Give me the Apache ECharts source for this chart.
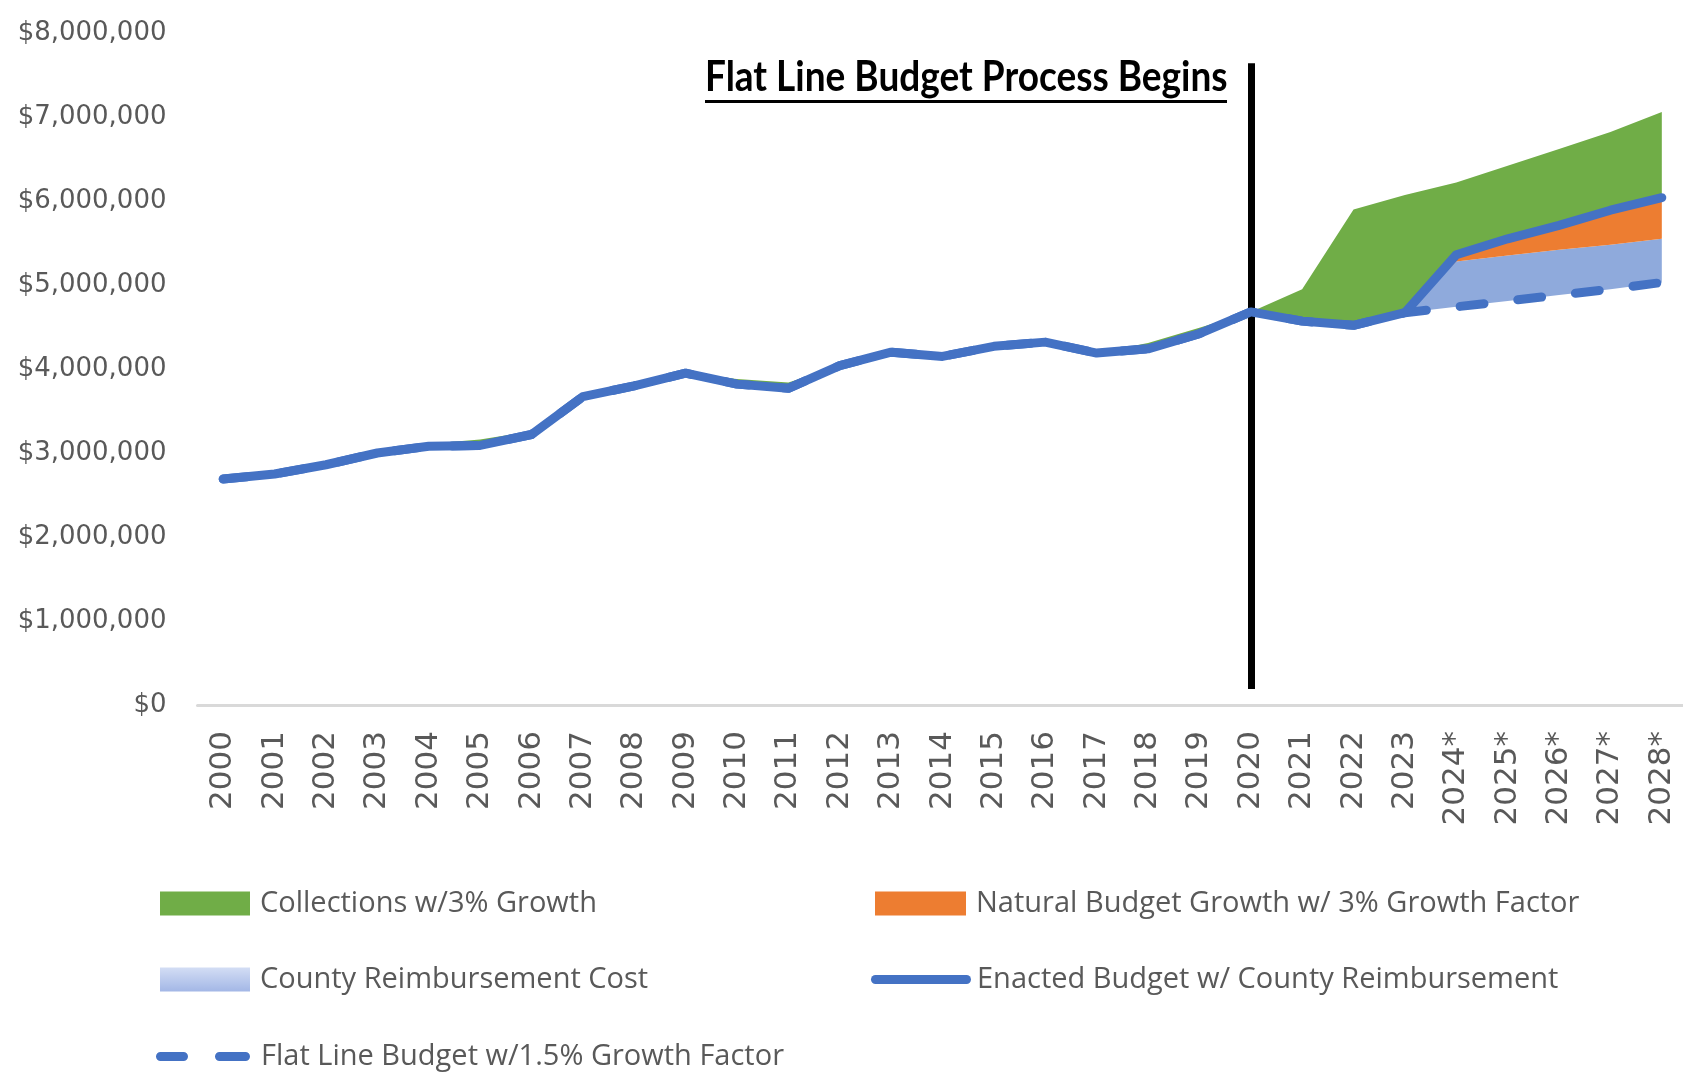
<!DOCTYPE html>
<html>
<head>
<meta charset="utf-8">
<title>Enacted Budget vs Collections</title>
<script src="https://cdn.jsdelivr.net/npm/echarts@6/dist/echarts.min.js"></script>
<style>
  html, body { margin: 0; padding: 0; background: #ffffff; }
  #chart { width: 1683px; height: 1073px; }
</style>
</head>
<body>
<div id="chart"></div>
<script>
// Fiscal years (* = projected)
const years = ['2000','2001','2002','2003','2004','2005','2006','2007','2008','2009',
  '2010','2011','2012','2013','2014','2015','2016','2017','2018','2019',
  '2020','2021','2022','2023','2024*','2025*','2026*','2027*','2028*'];

// Collections w/3% Growth
const collections = [2690000, 2750000, 2860000, 3000000, 3110000, 3160000, 3260000, 3670000, 3800000, 3950000,
  3880000, 3840000, 4040000, 4200000, 4150000, 4270000, 4320000, 4190000, 4310000, 4490000,
  4680000, 4950000, 5900000, 6070000, 6220000, 6420000, 6620000, 6820000, 7060000];

// Natural Budget Growth w/ 3% Growth Factor (projection only)
const naturalGrowth = [null, null, null, null, null, null, null, null, null, null,
  null, null, null, null, null, null, null, null, null, null,
  null, null, null, 4670000, 5340000, 5520000, 5680000, 5860000, 6000000];

// County Reimbursement Cost (projection only)
const countyReimb = [null, null, null, null, null, null, null, null, null, null,
  null, null, null, null, null, null, null, null, null, null,
  null, null, null, 4670000, 5280000, 5350000, 5420000, 5480000, 5550000];

// Enacted Budget w/ County Reimbursement
const enacted = [2690000, 2750000, 2860000, 3000000, 3080000, 3090000, 3220000, 3670000, 3800000, 3950000,
  3820000, 3770000, 4040000, 4200000, 4150000, 4270000, 4320000, 4190000, 4240000, 4420000,
  4680000, 4570000, 4520000, 4670000, 5360000, 5550000, 5710000, 5890000, 6040000];

// Flat Line Budget w/1.5% Growth Factor
const flatLine = [2690000, 2750000, 2860000, 3000000, 3080000, 3090000, 3220000, 3670000, 3800000, 3950000,
  3820000, 3770000, 4040000, 4200000, 4150000, 4270000, 4320000, 4190000, 4240000, 4420000,
  4680000, 4570000, 4520000, 4670000, 4740000, 4810000, 4880000, 4950000, 5030000];

// Vertical marker for the start of the flat line budget process
const markerYear = '2020';
const markerRange = [7640000, 190000];
const markerText = 'Flat Line Budget Process Begins';

const NAMES = {
  collections: 'Collections w/3% Growth',
  natural: 'Natural Budget Growth w/ 3% Growth Factor',
  county: 'County Reimbursement Cost',
  enacted: 'Enacted Budget w/ County Reimbursement',
  flat: 'Flat Line Budget w/1.5% Growth Factor'
};

// The shaded regions are stacked on top of the flat line budget so that each
// band only covers the gap between its own total and the one beneath it.
const countyTop = countyReimb.map((v, i) => v == null ? flatLine[i] : v);
const naturalTop = naturalGrowth.map((v, i) => v == null ? countyTop[i] : v);
const countyBand = countyTop.map((v, i) => v - flatLine[i]);
const naturalBand = naturalTop.map((v, i) => v - countyTop[i]);
const collectionsBand = collections.map((v, i) => v - naturalTop[i]);

const GREEN = '#70AD47';
const ORANGE = '#ED7D31';
const LIGHT_BLUE = '#8FAADC';
const BLUE = '#4472C4';
const GREY_TEXT = '#595959';

// Legend glyphs for the two blue lines
const SOLID_BAR = 'path://M4.5,0 H95.5 A4.5,4.5 0 0 1 95.5,9 H4.5 A4.5,4.5 0 0 1 4.5,0 Z';
const DASH_BARS = 'path://M4.5,0 H27.5 A4.5,4.5 0 0 1 27.5,9 H4.5 A4.5,4.5 0 0 1 4.5,0 Z ' +
                  'M63.5,0 H89.5 A4.5,4.5 0 0 1 89.5,9 H63.5 A4.5,4.5 0 0 1 63.5,0 Z';

function legendBox(item, left, top, extra) {
  const base = {
    data: [item],
    left: left,
    top: top,
    orient: 'horizontal',
    itemWidth: 90,
    itemHeight: 24,
    itemGap: 0,
    padding: 0,
    selectedMode: false,
    textStyle: { fontFamily: '"Open Sans", sans-serif', fontSize: 29, color: GREY_TEXT, padding: [0, 0, 0, 5] }
  };
  if (extra && extra.textPad != null) {
    base.textStyle = Object.assign({}, base.textStyle, { padding: [0, 0, 0, extra.textPad] });
  }
  if (extra) {
    if (extra.itemWidth) base.itemWidth = extra.itemWidth;
    if (extra.itemHeight) base.itemHeight = extra.itemHeight;
  }
  return base;
}

const chart = echarts.init(document.getElementById('chart'), null, { renderer: 'canvas' });

chart.setOption({
  animation: false,
  backgroundColor: '#ffffff',
  // The plot runs slightly past the right edge of the canvas, so the grid is
  // not pulled back inside the container.
  grid: { left: 197.5, top: 33, width: 1490, height: 672, outerBoundsMode: 'none' },
  xAxis: {
    type: 'category',
    data: years,
    boundaryGap: true,
    z: 10,
    axisLine: { show: true, lineStyle: { color: '#D9D9D9', width: 3 } },
    axisTick: { show: false },
    splitLine: { show: false },
    axisLabel: {
      interval: 0,
      rotate: 90,
      margin: 26,
      color: GREY_TEXT,
      fontFamily: '"DejaVu Sans", sans-serif',
      fontSize: 31
    }
  },
  yAxis: {
    type: 'value',
    min: 0,
    max: 8000000,
    interval: 1000000,
    axisLine: { show: false },
    axisTick: { show: false },
    splitLine: { show: false },
    axisLabel: {
      margin: 31,
      padding: [12, 0, 0, 0],
      color: GREY_TEXT,
      fontFamily: '"DejaVu Sans", sans-serif',
      fontSize: 26,
      formatter: v => '$' + v.toLocaleString('en-US')
    }
  },
  legend: [
    legendBox({ name: NAMES.collections, icon: 'rect' }, 160, 889),
    legendBox({ name: NAMES.natural, icon: 'rect' }, 875, 889, { itemWidth: 91 }),
    legendBox({
      name: NAMES.county, icon: 'rect',
      itemStyle: {
        color: { type: 'linear', x: 0, y: 0, x2: 0, y2: 1,
          colorStops: [{ offset: 0, color: '#D3DDF4' }, { offset: 1, color: '#A3B7E6' }] }
      }
    }, 160, 965),
    legendBox({ name: NAMES.enacted, icon: SOLID_BAR }, 871, 965, { itemWidth: 100, itemHeight: 9, textPad: 1 }),
    legendBox({ name: NAMES.flat, icon: DASH_BARS }, 156, 1042, { itemWidth: 94, itemHeight: 9, textPad: 6 })
  ],
  series: [
    {
      name: NAMES.flat,
      type: 'line',
      stack: 'budget',
      data: flatLine,
      symbol: 'none',
      z: 4,
      color: BLUE,
      itemStyle: { color: BLUE },
      lineStyle: { color: BLUE, width: 9, type: [24, 34], cap: 'round', join: 'round' }
    },
    {
      name: NAMES.county,
      type: 'line',
      stack: 'budget',
      data: countyBand,
      symbol: 'none',
      z: 1,
      color: LIGHT_BLUE,
      itemStyle: { color: LIGHT_BLUE },
      lineStyle: { width: 0 },
      areaStyle: { color: LIGHT_BLUE, opacity: 1 }
    },
    {
      name: NAMES.natural,
      type: 'line',
      stack: 'budget',
      data: naturalBand,
      symbol: 'none',
      z: 1,
      color: ORANGE,
      itemStyle: { color: ORANGE },
      lineStyle: { width: 0 },
      areaStyle: { color: ORANGE, opacity: 1 }
    },
    {
      name: NAMES.collections,
      type: 'line',
      stack: 'budget',
      data: collectionsBand,
      symbol: 'none',
      z: 1,
      color: GREEN,
      itemStyle: { color: GREEN },
      lineStyle: { width: 0 },
      areaStyle: { color: GREEN, opacity: 1 }
    },
    {
      name: NAMES.enacted,
      type: 'line',
      data: enacted,
      symbol: 'none',
      z: 5,
      color: BLUE,
      itemStyle: { color: BLUE },
      lineStyle: { color: BLUE, width: 9, cap: 'round', join: 'round' },
      markLine: {
        silent: true,
        symbol: 'none',
        label: { show: false },
        lineStyle: { color: '#000000', width: 7, type: 'solid' },
        data: [[
          { coord: [markerYear, markerRange[0]] },
          { coord: [markerYear, markerRange[1]] }
        ]]
      }
    }
  ],
  graphic: [
    {
      type: 'text',
      x: 705,
      y: 77,
      scaleY: 1.15,
      z: 20,
      style: {
        text: markerText,
        font: 'bold 37px Lato, sans-serif',
        fill: '#000000',
        align: 'left',
        verticalAlign: 'middle'
      }
    },
    {
      type: 'rect',
      x: 705,
      y: 100,
      z: 20,
      shape: { x: 0, y: 0, width: 522, height: 3 },
      style: { fill: '#000000' }
    }
  ]
});
</script>
</body>
</html>
